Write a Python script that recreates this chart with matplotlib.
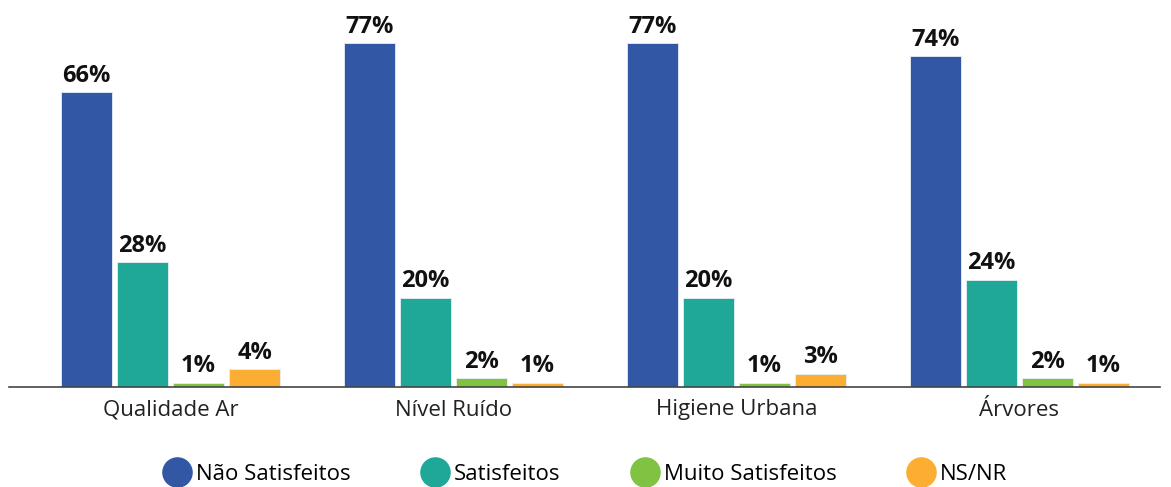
import matplotlib
matplotlib.use("Agg")
import matplotlib.pyplot as plt
import numpy as np
from matplotlib.lines import Line2D

categories = ["Qualidade Ar", "Nível Ruído", "Higiene Urbana", "Árvores"]
series_names = ["Não Satisfeitos", "Satisfeitos", "Muito Satisfeitos", "NS/NR"]
nao_satisfeitos = [66, 77, 77, 74]
satisfeitos = [28, 20, 20, 24]
muito_satisfeitos = [1, 2, 1, 2]
ns_nr = [4, 1, 3, 1]
colors = ["#3257A5", "#1FA898", "#80C342", "#FBAE31"]

plt.rcParams['font.family'] = ['Open Sans', 'DejaVu Sans']

fig = plt.figure(figsize=(11.71, 4.87), dpi=100)
ax = fig.add_axes([9/1171, 1 - 387/487, (1160 - 9)/1171, 387/487])

x = np.arange(len(categories))
offsets = [-0.297, -0.099, 0.099, 0.297]
width = 0.182
all_series = [nao_satisfeitos, satisfeitos, muito_satisfeitos, ns_nr]
for vals, off, col, name in zip(all_series, offsets, colors, series_names):
    bars = ax.bar(x + off, vals, width=width, color=col, edgecolor='#e8eef5', linewidth=0.6, label=name)
    for b, v in zip(bars, vals):
        ax.text(b.get_x() + b.get_width()/2, v + 2.3, f"{v}%", ha='center', va='baseline',
                fontsize=17, fontweight='bold', color='#111111')

ax.set_xlim(-0.571, 3.497)
ax.set_ylim(0, 86.6)
ax.set_xticks(x)
ax.set_xticklabels(categories, fontsize=16, color='#222222')
ax.tick_params(axis='x', length=0, pad=9)
ax.set_yticks([])
for s in ['top', 'right', 'left']:
    ax.spines[s].set_visible(False)
ax.spines['bottom'].set_color('#444444')
ax.spines['bottom'].set_linewidth(1.2)

handles = [Line2D([0], [0], marker='o', color='w', markerfacecolor=c, markeredgecolor=c,
                  markersize=21, label=n) for c, n in zip(colors, series_names)]
fig.legend(handles=handles, loc='center', bbox_to_anchor=(0.50, 0.026), ncol=4, frameon=False,
           fontsize=16, handletextpad=0.26, columnspacing=3.2, handlelength=1.2)

fig.savefig("out.png", dpi=100)
